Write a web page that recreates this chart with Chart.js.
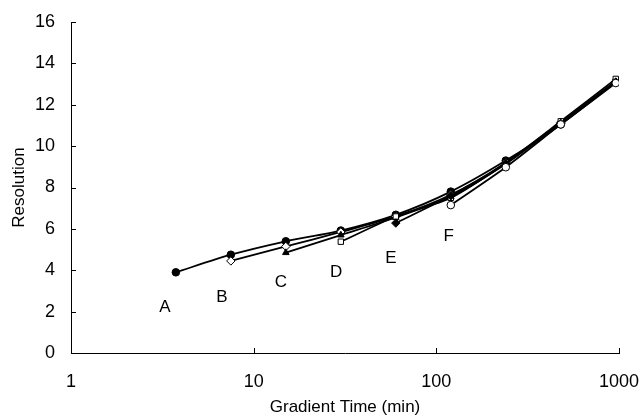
<!DOCTYPE html>
<html>
<head>
<meta charset="utf-8">
<script src="https://cdn.jsdelivr.net/npm/chart.js@4/dist/chart.umd.min.js"></script>
<style>
  html, body { margin: 0; padding: 0; background: #fff; }
  #wrap { width: 642px; height: 418px; }
</style>
</head>
<body>
<div id="wrap"><canvas id="chart"></canvas></div>
<script>
// gradient times (min) and resolution per run
const times = [3.75, 7.5, 15, 30, 60, 120, 240, 480, 960];
const seriesA = [3.9, 4.75, 5.4, 5.92, 6.68, 7.8, 9.3, 11.05, 13.1];
const seriesB = [null, 4.45, 5.15, 5.85, 6.6, 7.65, 9.2, 11.15, 13.1];
const seriesC = [null, null, 4.85, 5.7, 6.55, 7.55, 9.15, 11.15, 13.15];
const seriesD = [null, null, null, 5.38, 6.6, 7.5, 9.2, 11.2, 13.25];
const seriesE = [null, null, null, null, 6.28, 7.6, 9.15, 11.1, 13.1];
const seriesF = [null, null, null, null, null, 7.15, 8.98, 11.05, 13.05];

// letter annotations
const letters = ['A', 'B', 'C', 'D', 'E', 'F'];
const letterX = [3.27, 6.7, 14.1, 28.3, 56.4, 117];
const letterY = [2.22, 2.7, 3.43, 3.9, 4.6, 5.65];

const xTicks = [1, 10, 100, 1000];
const yTicks = [0, 2, 4, 6, 8, 10, 12, 14, 16];

const font = "'Liberation Sans', Arial, sans-serif";

function toPoints(vals) {
    let pts = [];
    vals.forEach((v, i) => {
        if (v !== null) pts.push({ x: times[i], y: v });
    });
    return pts;
}

function makeSet(label, vals, style, filled) {
    return {
        label: label,
        data: toPoints(vals),
        borderColor: '#000',
        borderWidth: 1.8,
        tension: 0.25,
        pointStyle: style,
        pointRadius: style === 'rectRot' ? 4.2 : 3.8,
        pointBackgroundColor: filled ? '#000' : '#fff',
        pointBorderColor: '#000',
        pointBorderWidth: 1,
        fill: false
    };
}

const tickMarks = {
    id: 'tickMarks',
    afterDraw(chart) {
        const ctx = chart.ctx;
        const xs = chart.scales.x, ys = chart.scales.y;
        const a = chart.chartArea;
        ctx.save();
        ctx.strokeStyle = '#000';
        ctx.lineWidth = 1;
        ctx.beginPath();
        yTicks.forEach(v => {
            const py = Math.round(ys.getPixelForValue(v)) + 0.5;
            ctx.moveTo(a.left, py);
            ctx.lineTo(a.left + 5, py);
        });
        xTicks.forEach(v => {
            const px = Math.round(xs.getPixelForValue(v)) + 0.5;
            ctx.moveTo(px, a.bottom);
            ctx.lineTo(px, a.bottom - 5);
        });
        ctx.stroke();
        // letters
        ctx.fillStyle = '#000';
        ctx.font = '17px ' + font;
        ctx.textAlign = 'center';
        ctx.textBaseline = 'middle';
        letters.forEach((t, i) => {
            ctx.fillText(t, xs.getPixelForValue(letterX[i]), ys.getPixelForValue(letterY[i]));
        });
        ctx.restore();
    }
};

const ctx = document.getElementById('chart').getContext('2d');
new Chart(ctx, {
    type: 'line',
    data: {
        datasets: [
            makeSet('F', seriesF, 'circle', false),
            makeSet('E', seriesE, 'rectRot', true),
            makeSet('D', seriesD, 'rect', false),
            makeSet('C', seriesC, 'triangle', true),
            makeSet('B', seriesB, 'rectRot', false),
            makeSet('A', seriesA, 'circle', true)
        ]
    },
    options: {
        responsive: true,
        maintainAspectRatio: false,
        animation: false,
        layout: { padding: { left: 9, right: 23, top: 22, bottom: 0 } },
        plugins: {
            legend: { display: false },
            tooltip: { enabled: false }
        },
        scales: {
            x: {
                type: 'logarithmic',
                min: 1,
                max: 1000,
                afterBuildTicks: scale => {
                    scale.ticks = xTicks.map(v => ({ value: v }));
                },
                afterFit: scale => {
                    scale.height = 65;
                    scale.paddingLeft = 0;
                    scale.paddingRight = 0;
                },
                grid: { display: false },
                border: { display: true, color: '#000', width: 1 },
                ticks: {
                    color: '#000',
                    font: { family: font, size: 18 },
                    padding: 10,
                    maxRotation: 0,
                    autoSkip: false,
                    callback: v => String(v)
                },
                title: {
                    display: true,
                    text: 'Gradient Time (min)',
                    color: '#000',
                    font: { family: font, size: 17 },
                    padding: { top: 1, bottom: 0 }
                }
            },
            y: {
                min: 0,
                max: 16,
                afterBuildTicks: scale => {
                    scale.ticks = yTicks.map(v => ({ value: v }));
                },
                afterFit: scale => {
                    scale.width = 62;
                    scale.paddingTop = 0;
                    scale.paddingBottom = 0;
                },
                grid: { display: false },
                border: { display: true, color: '#000', width: 1 },
                ticks: {
                    color: '#000',
                    font: { family: font, size: 18 },
                    padding: 8
                },
                title: {
                    display: true,
                    text: 'Resolution',
                    color: '#000',
                    font: { family: font, size: 17 },
                    padding: { top: 0, bottom: 0 }
                }
            }
        }
    },
    plugins: [tickMarks]
});
</script>
</body>
</html>
